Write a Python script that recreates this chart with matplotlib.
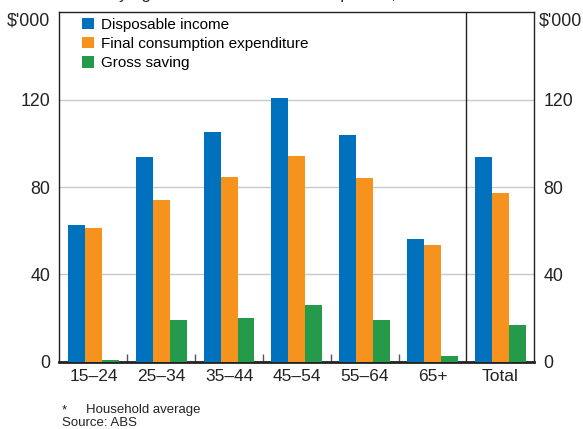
import numpy as np
import matplotlib
matplotlib.use('Agg')
import matplotlib.pyplot as plt
from matplotlib.patches import Patch

plt.rcParams['font.family'] = ['Liberation Sans', 'DejaVu Sans']

# 数据（$'000，家庭平均）
age_groups = ['15–24', '25–34', '35–44', '45–54', '55–64', '65+', 'Total']
disposable_income = [62.7, 93.9, 105.3, 120.9, 104.0, 56.3, 93.8]
final_consumption = [61.4, 74.2, 84.7, 94.4, 84.3, 53.6, 77.2]
gross_saving = [0.9, 19.2, 20.2, 26.1, 19.2, 2.7, 16.6]
series_names = ['Disposable income', 'Final consumption expenditure', 'Gross saving']
colors = ['#0071BC', '#F6921E', '#249B4A']
y_ticks = [0, 40, 80, 120]

fig = plt.figure(figsize=(5.83, 4.29), dpi=100)
ax = fig.add_axes([0.102, 0.157, 0.8145, 0.814])

x = np.arange(len(age_groups))
w = 0.25
for i, (vals, col) in enumerate(zip([disposable_income, final_consumption, gross_saving], colors)):
    ax.bar(x + (i - 1) * w, vals, width=w, color=col, zorder=3, linewidth=0)

ax.set_xlim(-0.5, len(age_groups) - 0.5)
ax.set_ylim(0, 160)

# 网格线
ax.set_yticks(y_ticks)
ax.grid(axis='y', color='#c8c8c8', linewidth=1, zorder=0)
ax.tick_params(axis='y', length=0, pad=6.5, labelsize=12.8, labelleft=True,
               labelright=True, labelcolor='#222222')

# x 轴标签和分组刻度
ax.set_xticks(x)
ax.set_xticklabels(age_groups)
ax.tick_params(axis='x', length=0, pad=5, labelsize=12.5, labelcolor='#222222')
ax.set_xticks(np.arange(0.5, 5.0, 1.0), minor=True)
ax.tick_params(axis='x', which='minor', direction='in', length=6, width=1, color='#555555')

# 边框
for side in ['left', 'right', 'top']:
    ax.spines[side].set_linewidth(1)
    ax.spines[side].set_color('#222222')
ax.spines['bottom'].set_linewidth(2)
ax.spines['bottom'].set_color('#222222')
ax.axvline(5.5, color='#222222', linewidth=1, zorder=4)

# 单位标签
ax.text(-0.02, 0.975, "$'000", transform=ax.transAxes, ha='right', va='center',
        fontsize=12.8, color='#222222')
ax.text(1.01, 0.975, "$'000", transform=ax.transAxes, ha='left', va='center',
        fontsize=12.8, color='#222222')

# 图例
handles = [Patch(facecolor=c, edgecolor='none') for c in colors]
ax.legend(handles, series_names, loc='upper left', bbox_to_anchor=(0.048, 0.985),
          frameon=False, fontsize=11, handlelength=0.75, handleheight=0.75,
          handletextpad=0.5, labelspacing=0.35, borderpad=0, borderaxespad=0)

# 被裁掉的标题
fig.text(108 / 583, 1 + 1.5 / 429, 'By age of household reference person, 2003–04*',
         ha='left', va='baseline', fontsize=12, color='#222222')

# 注释
fig.text(62 / 583, 1 - 410 / 429, '*', ha='left', va='center', fontsize=9.5, color='#222222')
fig.text(86 / 583, 1 - 410 / 429, 'Household average', ha='left', va='center',
         fontsize=9.5, color='#222222')
fig.text(62 / 583, 1 - 423 / 429, 'Source: ABS', ha='left', va='center',
         fontsize=9.5, color='#222222')

fig.savefig('out.png', dpi=100)
